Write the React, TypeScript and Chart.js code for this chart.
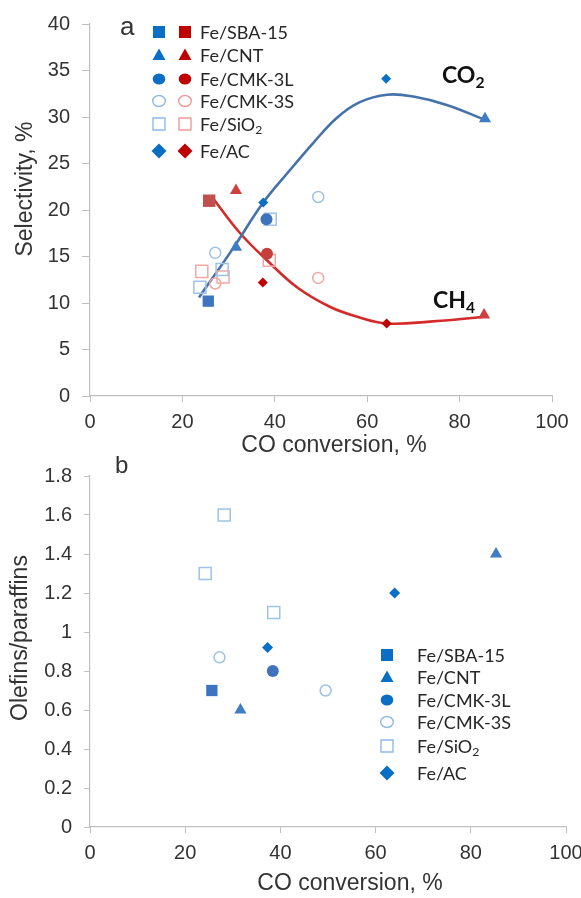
import React, { useEffect, useRef } from 'react';
import { Chart, registerables } from 'chart.js';

Chart.register(...registerables);

// ---------------- DATA ----------------
const catalystLabels = ['Fe/SBA-15', 'Fe/CNT', 'Fe/CMK-3L', 'Fe/CMK-3S', 'Fe/SiO_2', 'Fe/AC'];

// Panel a: CO2 selectivity (%) vs CO conversion (%)
const co2ConvSBA15 = [25.6];
const co2SelSBA15 = [10.2];
const co2ConvCNT = [31.6, 85.5];
const co2SelCNT = [16.0, 29.8];
const co2ConvCMK3L = [38.2];
const co2SelCMK3L = [19.0];
const co2ConvCMK3S = [27.1, 49.4];
const co2SelCMK3S = [15.4, 21.4];
const co2ConvSiO2 = [23.8, 28.6, 39.0];
const co2SelSiO2 = [11.7, 13.6, 19.0];
const co2ConvAC = [37.5, 64.1];
const co2SelAC = [20.8, 34.1];

// Panel a: CH4 selectivity (%) vs CO conversion (%)
const ch4ConvSBA15 = [25.8];
const ch4SelSBA15 = [21.0];
const ch4ConvCNT = [31.6, 85.3];
const ch4SelCNT = [22.1, 8.7];
const ch4ConvCMK3L = [38.3];
const ch4SelCMK3L = [15.3];
const ch4ConvCMK3S = [27.1, 49.4];
const ch4SelCMK3S = [12.1, 12.7];
const ch4ConvSiO2 = [24.2, 28.8, 38.8];
const ch4SelSiO2 = [13.4, 12.8, 14.6];
const ch4ConvAC = [37.4, 64.2];
const ch4SelAC = [12.2, 7.8];

// Panel a: trend curves
const co2TrendConv = [23.6, 31.0, 37.5, 43.3, 48.3, 53.4, 58.4, 64.3, 70.0, 77.2, 85.5];
const co2TrendSel = [10.6, 15.9, 20.8, 24.3, 27.2, 29.9, 31.6, 32.4, 32.2, 31.3, 29.7];
const ch4TrendConv = [26.4, 32.5, 38.3, 44.8, 51.9, 58.0, 64.3, 73.6, 85.1];
const ch4TrendSel = [21.4, 17.5, 14.6, 11.7, 9.6, 8.5, 7.8, 8.0, 8.5];

// Panel b: olefins/paraffins ratio vs CO conversion (%)
const ratioConvSBA15 = [25.6];
const ratioSBA15 = [0.70];
const ratioConvCNT = [31.6, 85.3];
const ratioCNT = [0.60, 1.40];
const ratioConvCMK3L = [38.4];
const ratioCMK3L = [0.80];
const ratioConvCMK3S = [27.2, 49.5];
const ratioCMK3S = [0.87, 0.70];
const ratioConvSiO2 = [24.2, 28.2, 38.6];
const ratioSiO2 = [1.30, 1.60, 1.10];
const ratioConvAC = [37.3, 64.0];
const ratioAC = [0.92, 1.20];

// Ticks
const convTicks = [0, 20, 40, 60, 80, 100];
const convTickLabels = ['0', '20', '40', '60', '80', '100'];
const selTicks = [0, 5, 10, 15, 20, 25, 30, 35, 40];
const selTickLabels = ['0', '5', '10', '15', '20', '25', '30', '35', '40'];
const ratioTicks = [0, 0.2, 0.4, 0.6, 0.8, 1.0, 1.2, 1.4, 1.6, 1.8];
const ratioTickLabels = ['0', '0.2', '0.4', '0.6', '0.8', '1', '1.2', '1.4', '1.6', '1.8'];

// ---------------- STYLES ----------------
const FONT_AXIS = "'Liberation Sans', Arial, sans-serif";
const FONT_LEG = "Lato, 'Noto Sans', sans-serif";
const AXIS_GREY = '#bfbfbf';
const TEXT = '#333333';

const markerStyles = [
  { pointStyle: 'rect', radius: 8, open: false, legend: 'square' },
  { pointStyle: 'triangle', radius: 7, open: false, legend: 'triangle' },
  { pointStyle: 'circle', radius: 6, open: false, legend: 'circle' },
  { pointStyle: 'circle', radius: 5.5, open: true, legend: 'circle' },
  { pointStyle: 'rect', radius: 8.5, open: true, legend: 'square' },
  { pointStyle: 'rectRot', radius: 5, open: false, legend: 'diamond' },
];
const blueColors = ['#3c74c0', '#3f7cc4', '#3f74bd', '#9dc3e6', '#9dc3e6', '#0a6fc6'];
const redColors = ['#c0504d', '#cf4040', '#c4403d', '#f2a7a5', '#f2a7a5', '#c00000'];
const legendBlue = ['#0a6fc4', '#0a6fc4', '#0a6fc4', '#8fbbe6', '#8fbbe6', '#0a6fc4'];
const legendRed = ['#c00000', '#c00000', '#c00000', '#ee9a9a', '#ee9a9a', '#c00000'];

const pts = (xs: number[], ys: number[]) => xs.map((x, i) => ({ x, y: ys[i] }));

function markerDataset(label: string, data: any[], idx: number, color: string, scale = 1) {
  const m = markerStyles[idx];
  return {
    label,
    data,
    pointStyle: m.pointStyle,
    pointRadius: m.radius * scale,
    pointBackgroundColor: m.open ? 'rgba(255,255,255,0)' : color,
    pointBorderColor: color,
    pointBorderWidth: m.open ? 1.5 : 0,
    showLine: false,
    order: 1,
  };
}

function drawMarker(ctx: CanvasRenderingContext2D, kind: string, x: number, y: number, color: string, open: boolean) {
  ctx.save();
  ctx.beginPath();
  if (kind === 'square') ctx.rect(x - 6, y - 6, 12, 12);
  else if (kind === 'triangle') {
    ctx.moveTo(x, y - 6.5);
    ctx.lineTo(x + 6.5, y + 5);
    ctx.lineTo(x - 6.5, y + 5);
    ctx.closePath();
  } else if (kind === 'circle') ctx.ellipse(x, y, 6.3, 5.5, 0, 0, Math.PI * 2);
  else if (kind === 'diamond') {
    ctx.moveTo(x, y - 7.5);
    ctx.lineTo(x + 7.5, y);
    ctx.lineTo(x, y + 7.5);
    ctx.lineTo(x - 7.5, y);
    ctx.closePath();
  }
  if (open) {
    ctx.lineWidth = 1.4;
    ctx.strokeStyle = color;
    ctx.stroke();
  } else {
    ctx.fillStyle = color;
    ctx.fill();
  }
  ctx.restore();
}

// text with "_" meaning following char is a subscript
function drawRich(ctx: CanvasRenderingContext2D, text: string, x: number, y: number, size: number, family: string, weight = 'normal', color = TEXT) {
  const parts: { t: string; sub: boolean }[] = [];
  let i = 0;
  let cur = '';
  while (i < text.length) {
    if (text[i] === '_' && i + 1 < text.length) {
      if (cur) parts.push({ t: cur, sub: false });
      cur = '';
      parts.push({ t: text[i + 1], sub: true });
      i += 2;
    } else {
      cur += text[i];
      i++;
    }
  }
  if (cur) parts.push({ t: cur, sub: false });
  ctx.save();
  ctx.fillStyle = color;
  ctx.textAlign = 'left';
  ctx.textBaseline = 'alphabetic';
  let cx = x;
  for (const p of parts) {
    const s = p.sub ? size * 0.68 : size;
    ctx.font = `${weight} ${s}px ${family}`;
    ctx.fillText(p.t, cx, p.sub ? y + size * 0.22 : y);
    cx += ctx.measureText(p.t).width;
  }
  ctx.restore();
}

function drawCentered(ctx: CanvasRenderingContext2D, text: string, x: number, y: number, size: number, rot = 0) {
  ctx.save();
  ctx.translate(x, y);
  ctx.rotate(rot);
  ctx.font = `${size}px ${FONT_AXIS}`;
  ctx.fillStyle = TEXT;
  ctx.textAlign = 'center';
  ctx.textBaseline = 'middle';
  ctx.fillText(text, 0, 0);
  ctx.restore();
}

function axisOptions(ticks: number[], labels: string[], min: number, max: number, horizontal: boolean, size: number, tickLen: number, pad: number) {
  return {
    type: 'linear',
    min,
    max,
    afterBuildTicks: (s: any) => {
      s.ticks = ticks.map((v) => ({ value: v }));
    },
    afterFit: (s: any) => {
      if (horizontal) {
        s.height = size;
        s.paddingLeft = 0;
        s.paddingRight = 0;
      } else {
        s.width = size;
        s.paddingTop = 0;
        s.paddingBottom = 0;
      }
    },
    ticks: {
      autoSkip: false,
      maxRotation: 0,
      padding: pad,
      color: TEXT,
      font: { family: FONT_AXIS, size: 20 },
      callback: (_v: any, i: number) => labels[i],
    },
    grid: { drawOnChartArea: false, drawTicks: true, tickLength: tickLen, color: AXIS_GREY, lineWidth: 1 },
    border: { display: true, color: AXIS_GREY, width: 1.2 },
    title: { display: false },
  };
}

const panelAPlugin = {
  id: 'panelA',
  afterDraw(chart: any) {
    const ctx = chart.ctx as CanvasRenderingContext2D;
    // panel letter
    ctx.save();
    ctx.font = `26px ${FONT_AXIS}`;
    ctx.fillStyle = TEXT;
    ctx.textBaseline = 'alphabetic';
    ctx.fillText('a', 120, 35);
    ctx.restore();
    // legend
    const rows = [32, 55, 79, 101, 124, 151];
    catalystLabels.forEach((lab, i) => {
      const m = markerStyles[i];
      drawMarker(ctx, m.legend, 159, rows[i], legendBlue[i], m.open);
      drawMarker(ctx, m.legend, 185, rows[i], legendRed[i], m.open);
      drawRich(ctx, lab, 200, rows[i] + 6.5, 18, FONT_LEG, 'normal', '#262626');
    });
    // curve labels
    drawRich(ctx, 'CO_2', 442, 83, 23, FONT_LEG, 'bold', '#111');
    drawRich(ctx, 'CH_4', 433, 308, 23, FONT_LEG, 'bold', '#111');
    // axis titles
    drawCentered(ctx, 'CO conversion, %', 334, 446, 23);
    drawCentered(ctx, 'Selectivity, %', 26, 189, 23, -Math.PI / 2);
  },
};

const panelBPlugin = {
  id: 'panelB',
  afterDraw(chart: any) {
    const ctx = chart.ctx as CanvasRenderingContext2D;
    ctx.save();
    ctx.font = `24px ${FONT_AXIS}`;
    ctx.fillStyle = TEXT;
    ctx.textBaseline = 'alphabetic';
    ctx.fillText('b', 115, 33);
    ctx.restore();
    const rows = [215, 237, 260, 282, 306, 333];
    catalystLabels.forEach((lab, i) => {
      const m = markerStyles[i];
      drawMarker(ctx, m.legend, 387, rows[i], legendBlue[i], m.open);
      drawRich(ctx, lab, 417, rows[i] + 6.5, 18, FONT_LEG, 'normal', '#262626');
    });
    drawCentered(ctx, 'CO conversion, %', 350, 444, 23);
    drawCentered(ctx, 'Olefins/paraffins', 21, 198, 23, -Math.PI / 2);
  },
};

export default function App() {
  const topRef = useRef<HTMLCanvasElement>(null);
  const botRef = useRef<HTMLCanvasElement>(null);

  useEffect(() => {
    const co2Sets = [
      pts(co2ConvSBA15, co2SelSBA15),
      pts(co2ConvCNT, co2SelCNT),
      pts(co2ConvCMK3L, co2SelCMK3L),
      pts(co2ConvCMK3S, co2SelCMK3S),
      pts(co2ConvSiO2, co2SelSiO2),
      pts(co2ConvAC, co2SelAC),
    ];
    const ch4Sets = [
      pts(ch4ConvSBA15, ch4SelSBA15),
      pts(ch4ConvCNT, ch4SelCNT),
      pts(ch4ConvCMK3L, ch4SelCMK3L),
      pts(ch4ConvCMK3S, ch4SelCMK3S),
      pts(ch4ConvSiO2, ch4SelSiO2),
      pts(ch4ConvAC, ch4SelAC),
    ];
    const ratioSets = [
      pts(ratioConvSBA15, ratioSBA15),
      pts(ratioConvCNT, ratioCNT),
      pts(ratioConvCMK3L, ratioCMK3L),
      pts(ratioConvCMK3S, ratioCMK3S),
      pts(ratioConvSiO2, ratioSiO2),
      pts(ratioConvAC, ratioAC),
    ];

    const topDatasets: any[] = [
      {
        label: 'CO2 trend',
        data: pts(co2TrendConv, co2TrendSel),
        showLine: true,
        borderColor: '#4572aa',
        borderWidth: 2.6,
        pointRadius: 0,
        tension: 0.4,
        fill: false,
        order: 10,
      },
      {
        label: 'CH4 trend',
        data: pts(ch4TrendConv, ch4TrendSel),
        showLine: true,
        borderColor: '#d42a2a',
        borderWidth: 2.6,
        pointRadius: 0,
        tension: 0.4,
        fill: false,
        order: 10,
      },
    ];
    catalystLabels.forEach((lab, i) => {
      topDatasets.push(markerDataset(lab + ' CO2', co2Sets[i], i, blueColors[i]));
      topDatasets.push(markerDataset(lab + ' CH4', ch4Sets[i], i, redColors[i], i === 0 ? 1.1 : 1));
    });

    const botDatasets: any[] = catalystLabels.map((lab, i) =>
      markerDataset(lab, ratioSets[i], i, blueColors[i], i === 5 ? 1.1 : 1)
    );

    const common = (padTop: number, padRight: number) => ({
      responsive: false,
      maintainAspectRatio: false,
      animation: false,
      events: [],
      layout: { padding: { top: padTop, right: padRight, left: 0, bottom: 0 } },
      plugins: { legend: { display: false }, tooltip: { enabled: false }, title: { display: false } },
    });

    const top = new Chart(topRef.current as HTMLCanvasElement, {
      type: 'scatter',
      data: { datasets: topDatasets },
      options: {
        ...common(24, 29),
        scales: {
          x: axisOptions(convTicks, convTickLabels, 0, 100, true, 64, 6, 8),
          y: axisOptions(selTicks, selTickLabels, 0, 40, false, 90, 8, 12),
        },
      } as any,
      plugins: [panelAPlugin],
    });

    const bot = new Chart(botRef.current as HTMLCanvasElement, {
      type: 'scatter',
      data: { datasets: botDatasets },
      options: {
        ...common(36, 15),
        scales: {
          x: axisOptions(convTicks, convTickLabels, 0, 100, true, 71, 6, 8),
          y: axisOptions(ratioTicks, ratioTickLabels, 0, 1.8, false, 90, 6, 12),
        },
      } as any,
      plugins: [panelBPlugin],
    });

    return () => {
      top.destroy();
      bot.destroy();
    };
  }, []);

  return (
    <div style={{ position: 'absolute', left: 0, top: 0, width: 581, height: 898, background: '#fff', overflow: 'hidden' }}>
      <canvas
        ref={topRef}
        width={581}
        height={460}
        style={{ position: 'absolute', left: 0, top: 0, width: 581, height: 460 }}
      />
      <canvas
        ref={botRef}
        width={581}
        height={458}
        style={{ position: 'absolute', left: 0, top: 440, width: 581, height: 458 }}
      />
    </div>
  );
}
